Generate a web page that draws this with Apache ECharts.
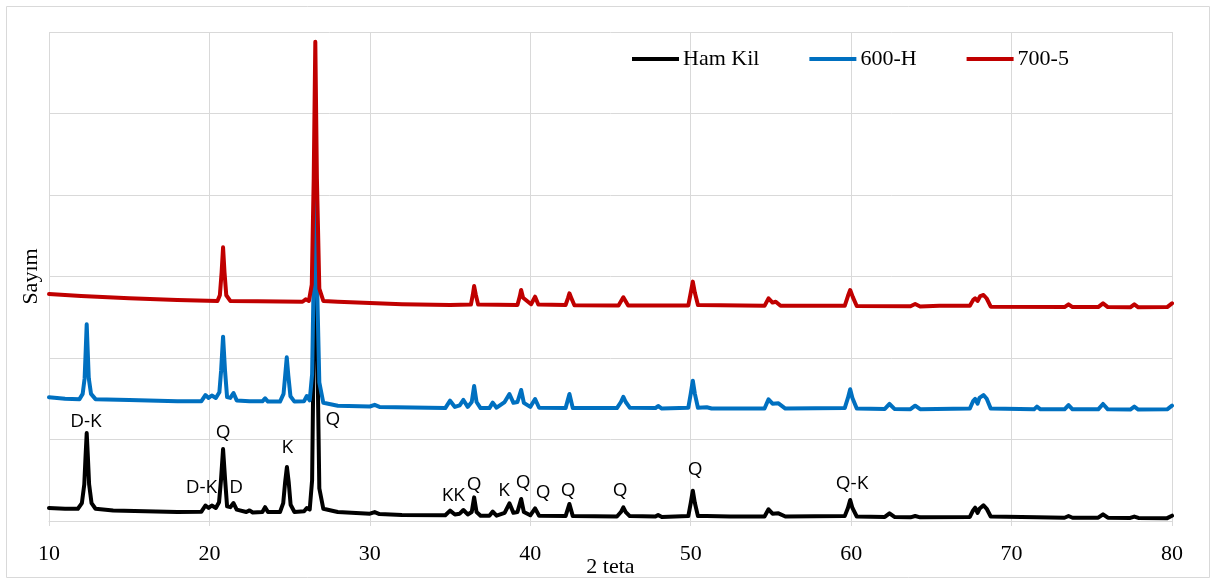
<!DOCTYPE html>
<html>
<head>
<meta charset="utf-8">
<script src="https://cdn.jsdelivr.net/npm/echarts@6/dist/echarts.min.js"></script>
<style>
  html, body { margin: 0; padding: 0; background: #fff; }
  #chart { width: 1217px; height: 581px; }
</style>
</head>
<body>
<div id="chart"></div>
<script>
// 2 teta / sayım okumaları (grafikten tahmin)
const hamKil = [
  [10, 160], [11, 150], [11.8, 150], [12.05, 220], [12.2, 450], [12.28, 800], [12.35, 1080], [12.42, 800], [12.5, 450], [12.65, 220], [12.9, 150],
  [14, 130], [16, 120], [18, 110], [19.5, 115], [19.75, 190], [19.95, 160], [20.15, 190], [20.4, 160], [20.6, 230],
  [20.72, 500], [20.85, 883], [20.98, 500], [21.1, 180], [21.3, 170], [21.5, 220], [21.7, 140], [22.3, 110], [22.5, 130],
  [22.7, 105], [23.3, 110], [23.47, 170], [23.65, 110], [24.4, 110], [24.6, 220], [24.72, 480], [24.83, 663], [24.94, 480],
  [25.06, 200], [25.3, 110], [25.9, 120], [26.07, 160], [26.25, 140], [26.4, 500], [26.5, 2200], [26.62, 4000], [26.72, 2200],
  [26.85, 400], [27.1, 150], [28, 110], [30, 90], [30.3, 110], [30.6, 85], [32, 75], [34.7, 70], [35.0, 127], [35.3, 80],
  [35.6, 90], [35.83, 135], [36.1, 80], [36.35, 110], [36.5, 290], [36.65, 110], [36.9, 65], [37.45, 65], [37.66, 115],
  [37.9, 65], [38.4, 100], [38.7, 217], [38.95, 100], [39.2, 110], [39.43, 270], [39.6, 110], [40.0, 70], [40.3, 155],
  [40.55, 65], [42.2, 60], [42.44, 209], [42.65, 60], [45.4, 55], [45.65, 110], [45.8, 168], [45.95, 110], [46.2, 60], [47.8, 55], [47.97, 74],
  [48.2, 50], [49.85, 60], [50.0, 220], [50.13, 372], [50.26, 220], [50.45, 60], [51.0, 60], [52.46, 55], [54.6, 55],
  [54.85, 143], [55.1, 90], [55.47, 94], [55.9, 55], [59.6, 60], [59.8, 160], [59.94, 258], [60.08, 160], [60.35, 55],
  [62.1, 50], [62.39, 94], [62.7, 50], [63.7, 45], [63.99, 61], [64.3, 45], [67.4, 50], [67.6, 130], [67.73, 163],
  [67.88, 100], [68.0, 150], [68.25, 193], [68.45, 150], [68.7, 55], [71.58, 45], [73.3, 40], [73.55, 61], [73.8, 40],
  [75.4, 40], [75.7, 82], [76.0, 40], [77.4, 38], [77.65, 55], [77.9, 38], [79.7, 35], [80, 65]
];
const h600 = [
  [10, 1518], [11, 1500], [11.9, 1495], [12.1, 1560], [12.22, 1750], [12.29, 2100], [12.35, 2413], [12.41, 2100], [12.48, 1750], [12.62, 1560], [12.9, 1495],
  [15, 1485], [18, 1470], [19.5, 1470], [19.75, 1545], [19.95, 1510], [20.15, 1540], [20.4, 1510], [20.62, 1580], [20.73, 1850],
  [20.85, 2262], [20.97, 1850], [21.1, 1520], [21.3, 1510], [21.5, 1570], [21.7, 1480], [22.5, 1470], [23.3, 1468], [23.47, 1505],
  [23.65, 1465], [24.4, 1465], [24.62, 1560], [24.72, 1780], [24.82, 2008], [24.92, 1780], [25.05, 1530], [25.3, 1465], [25.9, 1470],
  [26.07, 1534], [26.25, 1480], [26.4, 1800], [26.5, 3000], [26.6, 4600], [26.7, 3000], [26.85, 1700], [27.1, 1450], [28, 1415],
  [30, 1405], [30.3, 1425], [30.6, 1400], [34.7, 1385], [35.0, 1476], [35.3, 1400], [35.6, 1420], [35.83, 1485], [36.1, 1400],
  [36.35, 1460], [36.5, 1656], [36.65, 1460], [36.9, 1385], [37.45, 1385], [37.66, 1452], [37.9, 1390], [38.4, 1460], [38.7, 1558],
  [38.95, 1450], [39.2, 1460], [39.43, 1607], [39.6, 1450], [40.0, 1400], [40.3, 1497], [40.55, 1390], [42.2, 1385], [42.44, 1558],
  [42.65, 1385], [45.4, 1385], [45.65, 1460], [45.8, 1525], [45.95, 1460], [46.2, 1390], [47.8, 1385], [47.97, 1411], [48.2, 1380], [49.85, 1390], [50.0, 1560],
  [50.13, 1722], [50.26, 1560], [50.45, 1390], [51.0, 1395], [51.3, 1380], [54.6, 1380], [54.85, 1493], [55.1, 1440], [55.47, 1444],
  [55.9, 1380], [59.6, 1385], [59.8, 1510], [59.94, 1616], [60.08, 1510], [60.35, 1380], [62.1, 1375], [62.39, 1436], [62.7, 1375],
  [63.7, 1372], [63.99, 1415], [64.3, 1372], [67.4, 1380], [67.6, 1470], [67.73, 1497], [67.88, 1440], [68.0, 1510], [68.25, 1546],
  [68.45, 1500], [68.7, 1380], [71.4, 1370], [71.58, 1403], [71.8, 1370], [73.3, 1370], [73.55, 1423], [73.8, 1370], [75.4, 1370],
  [75.7, 1436], [76.0, 1370], [77.4, 1368], [77.65, 1403], [77.9, 1368], [79.7, 1370], [80, 1415]
];
const t700 = [
  [10, 2785], [12, 2760], [15, 2732], [18, 2712], [20.5, 2700], [20.65, 2770], [20.76, 3050], [20.85, 3358], [20.94, 3050],
  [21.05, 2770], [21.3, 2700], [23, 2695], [25.8, 2690], [26.0, 2720], [26.2, 2700], [26.38, 2900], [26.5, 4200], [26.6, 5881],
  [26.7, 4200], [26.85, 2850], [27.1, 2700], [28, 2691], [30, 2675], [32, 2660], [35, 2650], [36.3, 2655], [36.42, 2780],
  [36.5, 2883], [36.6, 2780], [36.75, 2655], [39.2, 2650], [39.35, 2760], [39.43, 2834], [39.55, 2740], [40.05, 2660], [40.3, 2752],
  [40.5, 2655], [42.2, 2650], [42.36, 2740], [42.44, 2793], [42.55, 2740], [42.75, 2648], [45.5, 2645], [45.8, 2745], [46.1, 2645],
  [49.85, 2645], [50.0, 2800], [50.13, 2937], [50.26, 2800], [50.45, 2650], [54.6, 2640], [54.85, 2732], [55.1, 2680], [55.3, 2690],
  [55.6, 2640], [59.6, 2640], [59.8, 2760], [59.94, 2834], [60.1, 2750], [60.35, 2638], [63.7, 2635], [63.99, 2663], [64.3, 2632],
  [65.5, 2640], [67.4, 2640], [67.6, 2710], [67.73, 2732], [67.88, 2700], [68.05, 2760], [68.25, 2773], [68.45, 2730], [68.7, 2630],
  [73.3, 2625], [73.55, 2659], [73.8, 2625], [75.4, 2625], [75.7, 2671], [76.0, 2625], [77.4, 2622], [77.65, 2659], [77.9, 2622],
  [79.7, 2625], [80, 2671]
];

// pik etiketleri
const peakNames = ['D-K', 'D-K', 'Q', 'D', 'K', 'Q', 'KK', 'Q', 'K', 'Q', 'Q', 'Q', 'Q', 'Q', 'Q-K'];
const peakX = [12.3, 19.5, 20.85, 21.66, 24.85, 27.7, 35.2, 36.5, 38.37, 39.55, 40.8, 42.36, 45.6, 50.27, 60.06];
const peakY = [1215, 405, 1080, 405, 896, 1239, 307, 442, 368, 466, 344, 368, 368, 626, 454];

const seriesNames = ['Ham Kil', '600-H', '700-5'];
const seriesColors = ['#000000', '#0070C0', '#C00000'];

const chart = echarts.init(document.getElementById('chart'));

const lineSeries = [hamKil, h600, t700].map((d, i) => ({
  name: seriesNames[i],
  type: 'line',
  data: d,
  symbol: 'none',
  color: seriesColors[i],
  lineStyle: { width: 4, color: seriesColors[i], join: 'round', cap: 'round' },
  z: 2 + i
}));

chart.setOption({
  animation: false,
  graphic: [{
    type: 'rect',
    shape: { x: 6.5, y: 6.5, width: 1203, height: 571 },
    style: { fill: 'none', stroke: '#d9d9d9', lineWidth: 1 },
    silent: true
  }],
  grid: { left: 49, right: 45, top: 32, bottom: 60, containLabel: false, outerBoundsMode: 'none' },
  legend: {
    data: seriesNames.map(n => ({ name: n, icon: 'rect' })),
    left: 632,
    top: 48,
    padding: 0,
    itemWidth: 47,
    itemHeight: 4,
    itemGap: 50,
    textStyle: { fontFamily: 'Liberation Serif', fontSize: 22, color: '#000', padding: [0, 0, 0, -1] }
  },
  xAxis: {
    type: 'value',
    min: 10,
    max: 80,
    interval: 10,
    name: '2 teta',
    nameLocation: 'middle',
    nameGap: 46,
    nameMoveOverlap: false,
    nameTextStyle: { fontFamily: 'Liberation Serif', fontSize: 22, color: '#000', verticalAlign: 'middle' },
    axisLine: { show: true, lineStyle: { color: '#d9d9d9', width: 1 } },
    axisTick: { show: true, length: 5, lineStyle: { color: '#d9d9d9' } },
    axisLabel: { margin: 22, fontFamily: 'Liberation Serif', fontSize: 22, color: '#000' },
    splitLine: { show: true, lineStyle: { color: '#d9d9d9', width: 1 } }
  },
  yAxis: {
    type: 'value',
    min: 0,
    max: 6000,
    interval: 1000,
    name: 'Sayım',
    nameLocation: 'middle',
    nameGap: 7,
    nameMoveOverlap: false,
    nameTextStyle: { fontFamily: 'Liberation Serif', fontSize: 22, color: '#000' },
    axisLine: { show: false },
    axisTick: { show: false },
    axisLabel: { show: false },
    splitLine: { show: true, lineStyle: { color: '#d9d9d9', width: 1 } }
  },
  series: lineSeries.concat([{
    name: 'etiket',
    type: 'scatter',
    symbolSize: 0,
    z: 10,
    silent: true,
    itemStyle: { opacity: 1 },
    data: peakNames.map((n, i) => ({ name: n, value: [peakX[i], peakY[i]] })),
    label: {
      show: true,
      position: 'inside',
      formatter: p => p.name,
      fontFamily: 'Open Sans',
      fontSize: 19,
      color: '#000',
      opacity: 1,
      textBorderWidth: 0
    }
  }])
});
</script>
</body>
</html>
